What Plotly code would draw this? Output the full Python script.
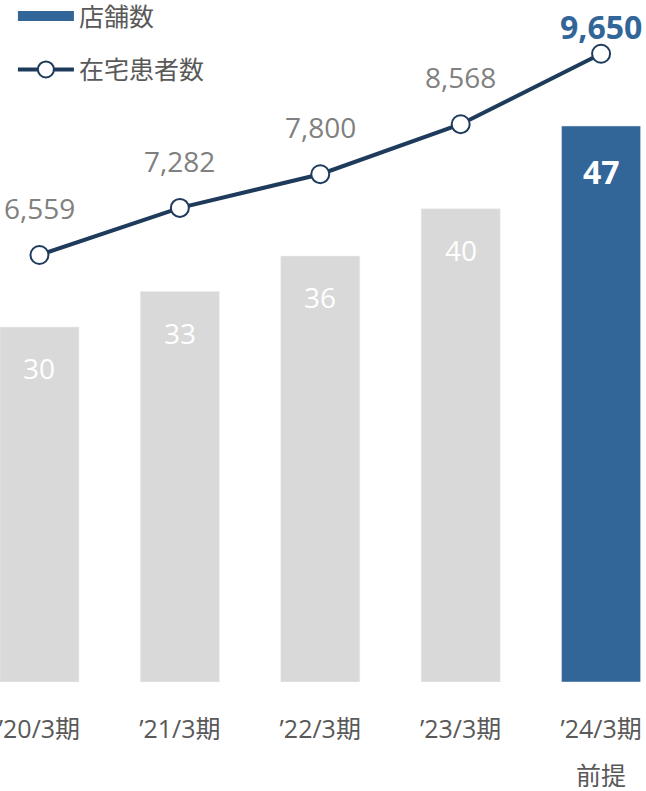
import plotly.graph_objects as go

# --- data ---
periods = ["’20/3期", "’21/3期", "’22/3期", "’23/3期", "’24/3期"]
stores = [30, 33, 36, 40, 47]
patients = [6559, 7282, 7800, 8568, 9650]
forecast_note = "前提"

GRAY = "#D9D9D9"
BLUE = "#326699"
NAVY = "#1F3B5C"
TXT = "#595959"
FONT = "Open Sans, Noto Sans CJK JP, sans-serif"

bar_colors = [GRAY] * (len(stores) - 1) + [BLUE]

fig = go.Figure()

# bars (legend entry drawn by dummy trace below)
fig.add_trace(go.Bar(
    x=periods, y=stores, marker_color=bar_colors, width=0.563,
    showlegend=False, hoverinfo="skip",
))
# legend proxy for bars
fig.add_trace(go.Scatter(
    x=[None], y=[None], mode="lines", name="店舗数",
    line=dict(color=BLUE, width=15), legendgroup="a",
))
fig.add_trace(go.Scatter(
    x=periods, y=patients, yaxis="y2", mode="lines+markers", name="在宅患者数",
    line=dict(color=NAVY, width=4),
    marker=dict(size=18, color="white", line=dict(color=NAVY, width=2)),
    legendgroup="b",
))

anns = []
for i, (p, s) in enumerate(zip(periods, stores)):
    last = i == len(stores) - 1
    anns.append(dict(
        x=p, y=s, xref="x", yref="y", text=f"<b>{s}</b>" if last else str(s),
        showarrow=False, yshift=-46 if last else -41,
        font=dict(size=32 if last else 28, color="white", family=FONT),
    ))
for i, (p, v) in enumerate(zip(periods, patients)):
    last = i == len(patients) - 1
    anns.append(dict(
        x=p, y=v, xref="x", yref="y2", text=f"<b>{v:,}</b>" if last else f"{v:,}",
        showarrow=False, yshift=27 if last else 47,
        font=dict(size=32 if last else 28, color=BLUE if last else "#808080", family=FONT),
    ))
anns.append(dict(
    x=periods[-1], y=0, xref="x", yref="paper", text=forecast_note, showarrow=False,
    yanchor="middle", yshift=-93, font=dict(size=25, color=TXT, family=FONT),
))

fig.update_layout(
    width=646, height=791,
    margin=dict(l=0, r=0, t=0, b=109, autoexpand=False),
    plot_bgcolor="white", paper_bgcolor="white",
    font=dict(family=FONT, color=TXT),
    barmode="overlay",
    xaxis=dict(
        type="category", range=[-0.281, 4.32], showgrid=False, zeroline=False,
        showline=False, ticks="", tickfont=dict(size=25, color=TXT),
        ticklabelstandoff=30, automargin=False,
    ),
    yaxis=dict(range=[0, 57.65], visible=False),
    yaxis2=dict(range=[0, 10476], overlaying="y", visible=False),
    legend=dict(
        x=0.02, y=1.01, xanchor="left", yanchor="top",
        font=dict(size=25, color=TXT), itemwidth=56,
        traceorder="grouped", tracegroupgap=18, bgcolor="rgba(0,0,0,0)",
    ),
    annotations=anns,
    showlegend=True,
)

# page has a default 8px body margin; drop it so the figure sits at 0,0
fig.write_html(
    "out.html",
    config={"displayModeBar": False},
    post_script="document.body.style.margin='0';",
)
